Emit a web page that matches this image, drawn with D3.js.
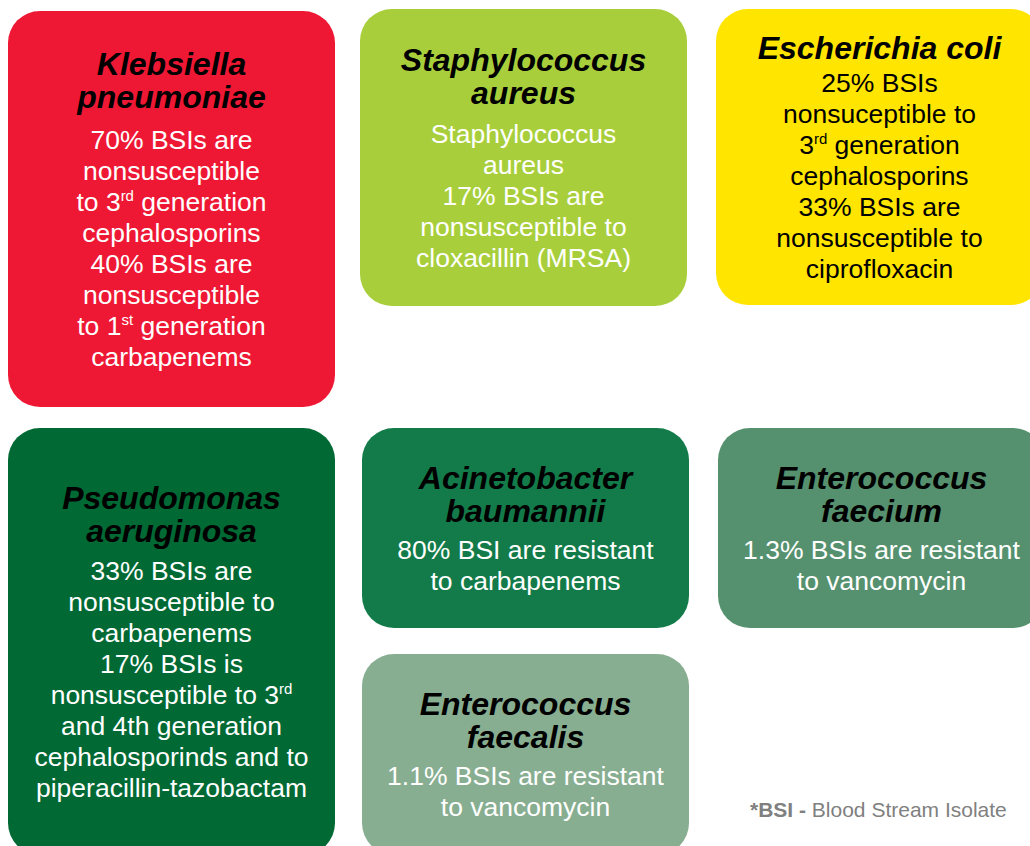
<!DOCTYPE html>
<html><head><meta charset="utf-8">
<script src="https://cdn.jsdelivr.net/npm/d3@7"></script>
<style>html,body{margin:0;padding:0;background:#fff;overflow:hidden}svg{display:block}</style>
</head><body><svg id="c" width="1030" height="846"></svg>
<script>
// ---- data ----
const organisms = ["Klebsiella pneumoniae","Staphylococcus aureus","Escherichia coli","Pseudomonas aeruginosa","Acinetobacter baumannii","Enterococcus faecium","Enterococcus faecalis"];
const titleLines = [
  ["Klebsiella","pneumoniae"],
  ["Staphylococcus","aureus"],
  ["Escherichia coli"],
  ["Pseudomonas","aeruginosa"],
  ["Acinetobacter","baumannii"],
  ["Enterococcus","faecium"],
  ["Enterococcus","faecalis"]
];
const bodyLines = [
  ["70% BSIs are","nonsusceptible","to 3^rd generation","cephalosporins","40% BSIs are","nonsusceptible","to 1^st generation","carbapenems"],
  ["Staphylococcus","aureus","17% BSIs are","nonsusceptible to","cloxacillin (MRSA)"],
  ["25% BSIs","nonsuceptible to","3^rd generation","cephalosporins","33% BSIs are","nonsusceptible to","ciprofloxacin"],
  ["33% BSIs are","nonsusceptible to","carbapenems","17% BSIs is","nonsusceptible to 3^rd","and 4th generation","cephalosporinds and to","piperacillin-tazobactam"],
  ["80% BSI are resistant","to carbapenems"],
  ["1.3% BSIs are resistant","to vancomycin"],
  ["1.1% BSIs are resistant","to vancomycin"]
];
const footnoteBold = "*BSI - ";
const footnoteText = "Blood Stream Isolate";

// ---- layout / style ----
const tileCol = [0,1,2,0,1,2,1];
const tileShift = [0,-2,0,0,0,2,0];
const tileTop = [11,9,9,428,428,428,654];
const tileBottom = [407,306,305,855,628,628,855];
const titleBodyGap = [41,39,33,38,37,37,37];
const tileFill = ["#EE1834","#A8CF3B","#FFE500","#006934","#137B49","#55916E","#88AE91"];
const bodyFill = ["#fff","#fff","#000","#fff","#fff","#fff","#fff"];

const svg = d3.select("#c");
const x = d3.scaleBand().domain([0,1,2]).range([8, 1043]).paddingInner(27/354).paddingOuter(0);

const tiles = organisms.map((name,i)=>({
  name, title: titleLines[i], body: bodyLines[i],
  x: x(tileCol[i]) + tileShift[i], w: x.bandwidth(), y: tileTop[i], h: tileBottom[i]-tileTop[i],
  gap: titleBodyGap[i], fill: tileFill[i], tc: bodyFill[i]
}));

const TL = 33, BL = 31;
const g = svg.selectAll("g.tile").data(tiles).join("g").attr("class","tile");
g.append("rect")
  .attr("x",d=>d.x).attr("y",d=>d.y).attr("width",d=>d.w).attr("height",d=>d.h)
  .attr("rx",32).attr("ry",32).attr("fill",d=>d.fill);

g.each(function(d){
  const sel = d3.select(this);
  const cx = d.x + d.w/2;
  const span = (d.title.length-1)*TL + d.gap + (d.body.length-1)*BL;
  const mid = d.y + d.h/2 + 11;
  let y0 = mid - span/2;
  d.title.forEach((t,j)=>{
    sel.append("text").attr("x",cx).attr("y",y0 + j*TL)
      .attr("text-anchor","middle")
      .style("font-family","'Liberation Sans', Arial, sans-serif")
      .style("font-weight","bold").style("font-style","italic")
      .style("font-size","32px").attr("fill","#000").text(t);
  });
  const by = y0 + (d.title.length-1)*TL + d.gap;
  d.body.forEach((line,j)=>{
    const t = sel.append("text").attr("x",cx).attr("y",by + j*BL)
      .attr("text-anchor","middle")
      .style("font-family","'Liberation Sans', Arial, sans-serif")
      .style("font-size","26.5px").attr("fill",d.tc);
    const m = line.match(/^(.*?)\^(\w+)(.*)$/);
    if(m){
      t.append("tspan").text(m[1]);
      t.append("tspan").attr("dy",-10).style("font-size","15px").text(m[2]);
      t.append("tspan").attr("dy",10).text(m[3]);
    } else t.text(line);
  });
});

const fn = svg.append("text").attr("x",750).attr("y",817)
  .style("font-family","'Liberation Sans', Arial, sans-serif")
  .style("font-size","21px").attr("fill","#808080");
fn.append("tspan").style("font-weight","bold").text(footnoteBold);
fn.append("tspan").text(footnoteText);
</script>
</body></html>
